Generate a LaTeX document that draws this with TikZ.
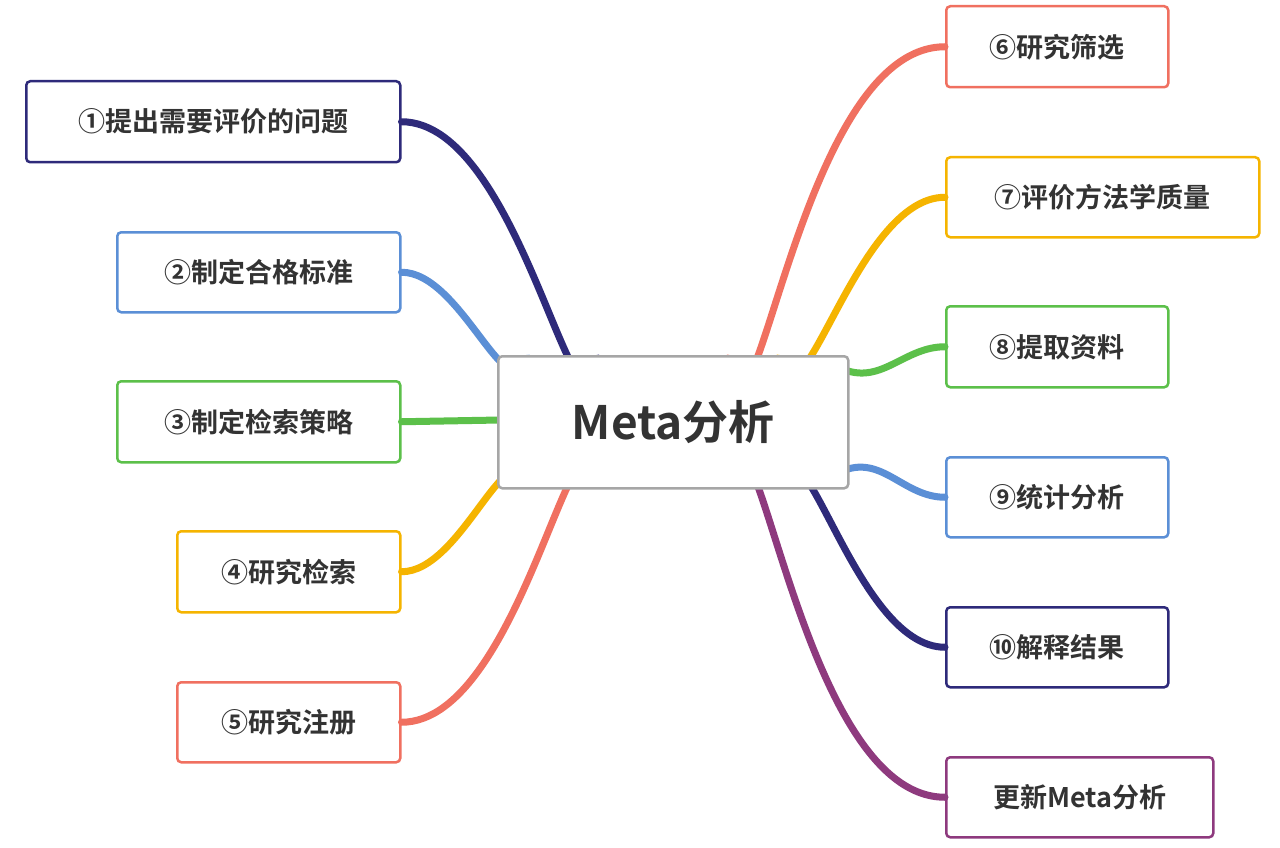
\documentclass[tikz,border=0pt]{standalone}
\usepackage{fontspec}
\setmainfont{Noto Sans CJK SC}[BoldFont={* Bold}]
\definecolor{navy}{HTML}{2E2A7A}
\definecolor{mblue}{HTML}{5B8FD6}
\definecolor{mgreen}{HTML}{5CC04A}
\definecolor{myellow}{HTML}{F5B400}
\definecolor{mred}{HTML}{F07060}
\definecolor{mpurple}{HTML}{8E3A7E}
\definecolor{txt}{HTML}{333333}
\begin{document}
\begin{tikzpicture}[x=1pt,y=-1pt,
 box/.style={draw=#1,line width=2.5pt,rounded corners=4pt,fill=white,text=txt,font=\bfseries\fontsize{27}{31}\selectfont,inner sep=0pt,anchor=north west},
 link/.style={draw=#1,line width=7pt,line cap=round}]
\useasboundingbox (0,0) rectangle (1280,848);
\fill[white] (0,0) rectangle (1280,848);
\node[box=navy,minimum width=374pt,minimum height=81pt] (n1) at (25,80) {①提出需要评价的问题};
\node[box=mblue,minimum width=283pt,minimum height=80pt] (n2) at (116,231) {②制定合格标准};
\node[box=mgreen,minimum width=283pt,minimum height=81pt] (n3) at (116,380) {③制定检索策略};
\node[box=myellow,minimum width=223pt,minimum height=81pt] (n4) at (176,530) {④研究检索};
\node[box=mred,minimum width=223pt,minimum height=80pt] (n5) at (176,681) {⑤研究注册};
\node[box=mred,minimum width=222pt,minimum height=81pt] (n6) at (945,5) {⑥研究筛选};
\node[box=myellow,minimum width=313pt,minimum height=80pt] (n7) at (945,156) {⑦评价方法学质量};
\node[box=mgreen,minimum width=222pt,minimum height=81pt] (n8) at (945,305) {⑧提取资料};
\node[box=mblue,minimum width=222pt,minimum height=80pt] (n9) at (945,456) {⑨统计分析};
\node[box=navy,minimum width=222pt,minimum height=80pt] (n10) at (945,606) {⑩解释结果};
\node[box=mpurple,minimum width=267pt,minimum height=80pt] (n11) at (945,756) {更新Meta分析};
\coordinate (a1) at (598,358); \coordinate (a2) at (528,358);
\coordinate (a4) at (528,484); \coordinate (a5) at (598,484);
\coordinate (b6) at (728,358); \coordinate (b7) at (778,358);
\coordinate (b10) at (778,484); \coordinate (b11) at (728,484);
\coordinate (b8) at (845,370); \coordinate (b9) at (845,470);
\coordinate (a3) at (500,420);
\draw[link=navy] (a1) to[out=-100,in=0] (n1.east);
\draw[link=mblue] (a2) to[out=-110,in=0] (n2.east);
\draw[link=mgreen] (a3) -- (n3.east);
\draw[link=myellow] (a4) to[out=110,in=0] (n4.east);
\draw[link=mred] (a5) to[out=100,in=0] (n5.east);
\draw[link=mred] (b6) to[out=-80,in=180] (n6.west);
\draw[link=myellow] (b7) to[out=-75,in=180] (n7.west);
\draw[link=mgreen] (b8) to[out=-20,in=180] (n8.west);
\draw[link=mblue] (b9) to[out=20,in=180] (n9.west);
\draw[link=navy] (b10) to[out=75,in=180] (n10.west);
\draw[link=mpurple] (b11) to[out=80,in=180] (n11.west);
\node[box=gray!70,minimum width=350pt,minimum height=132pt,font=\bfseries\fontsize{46}{52}\selectfont] (c) at (497,355) {Meta分析};
\end{tikzpicture}
\end{document}
